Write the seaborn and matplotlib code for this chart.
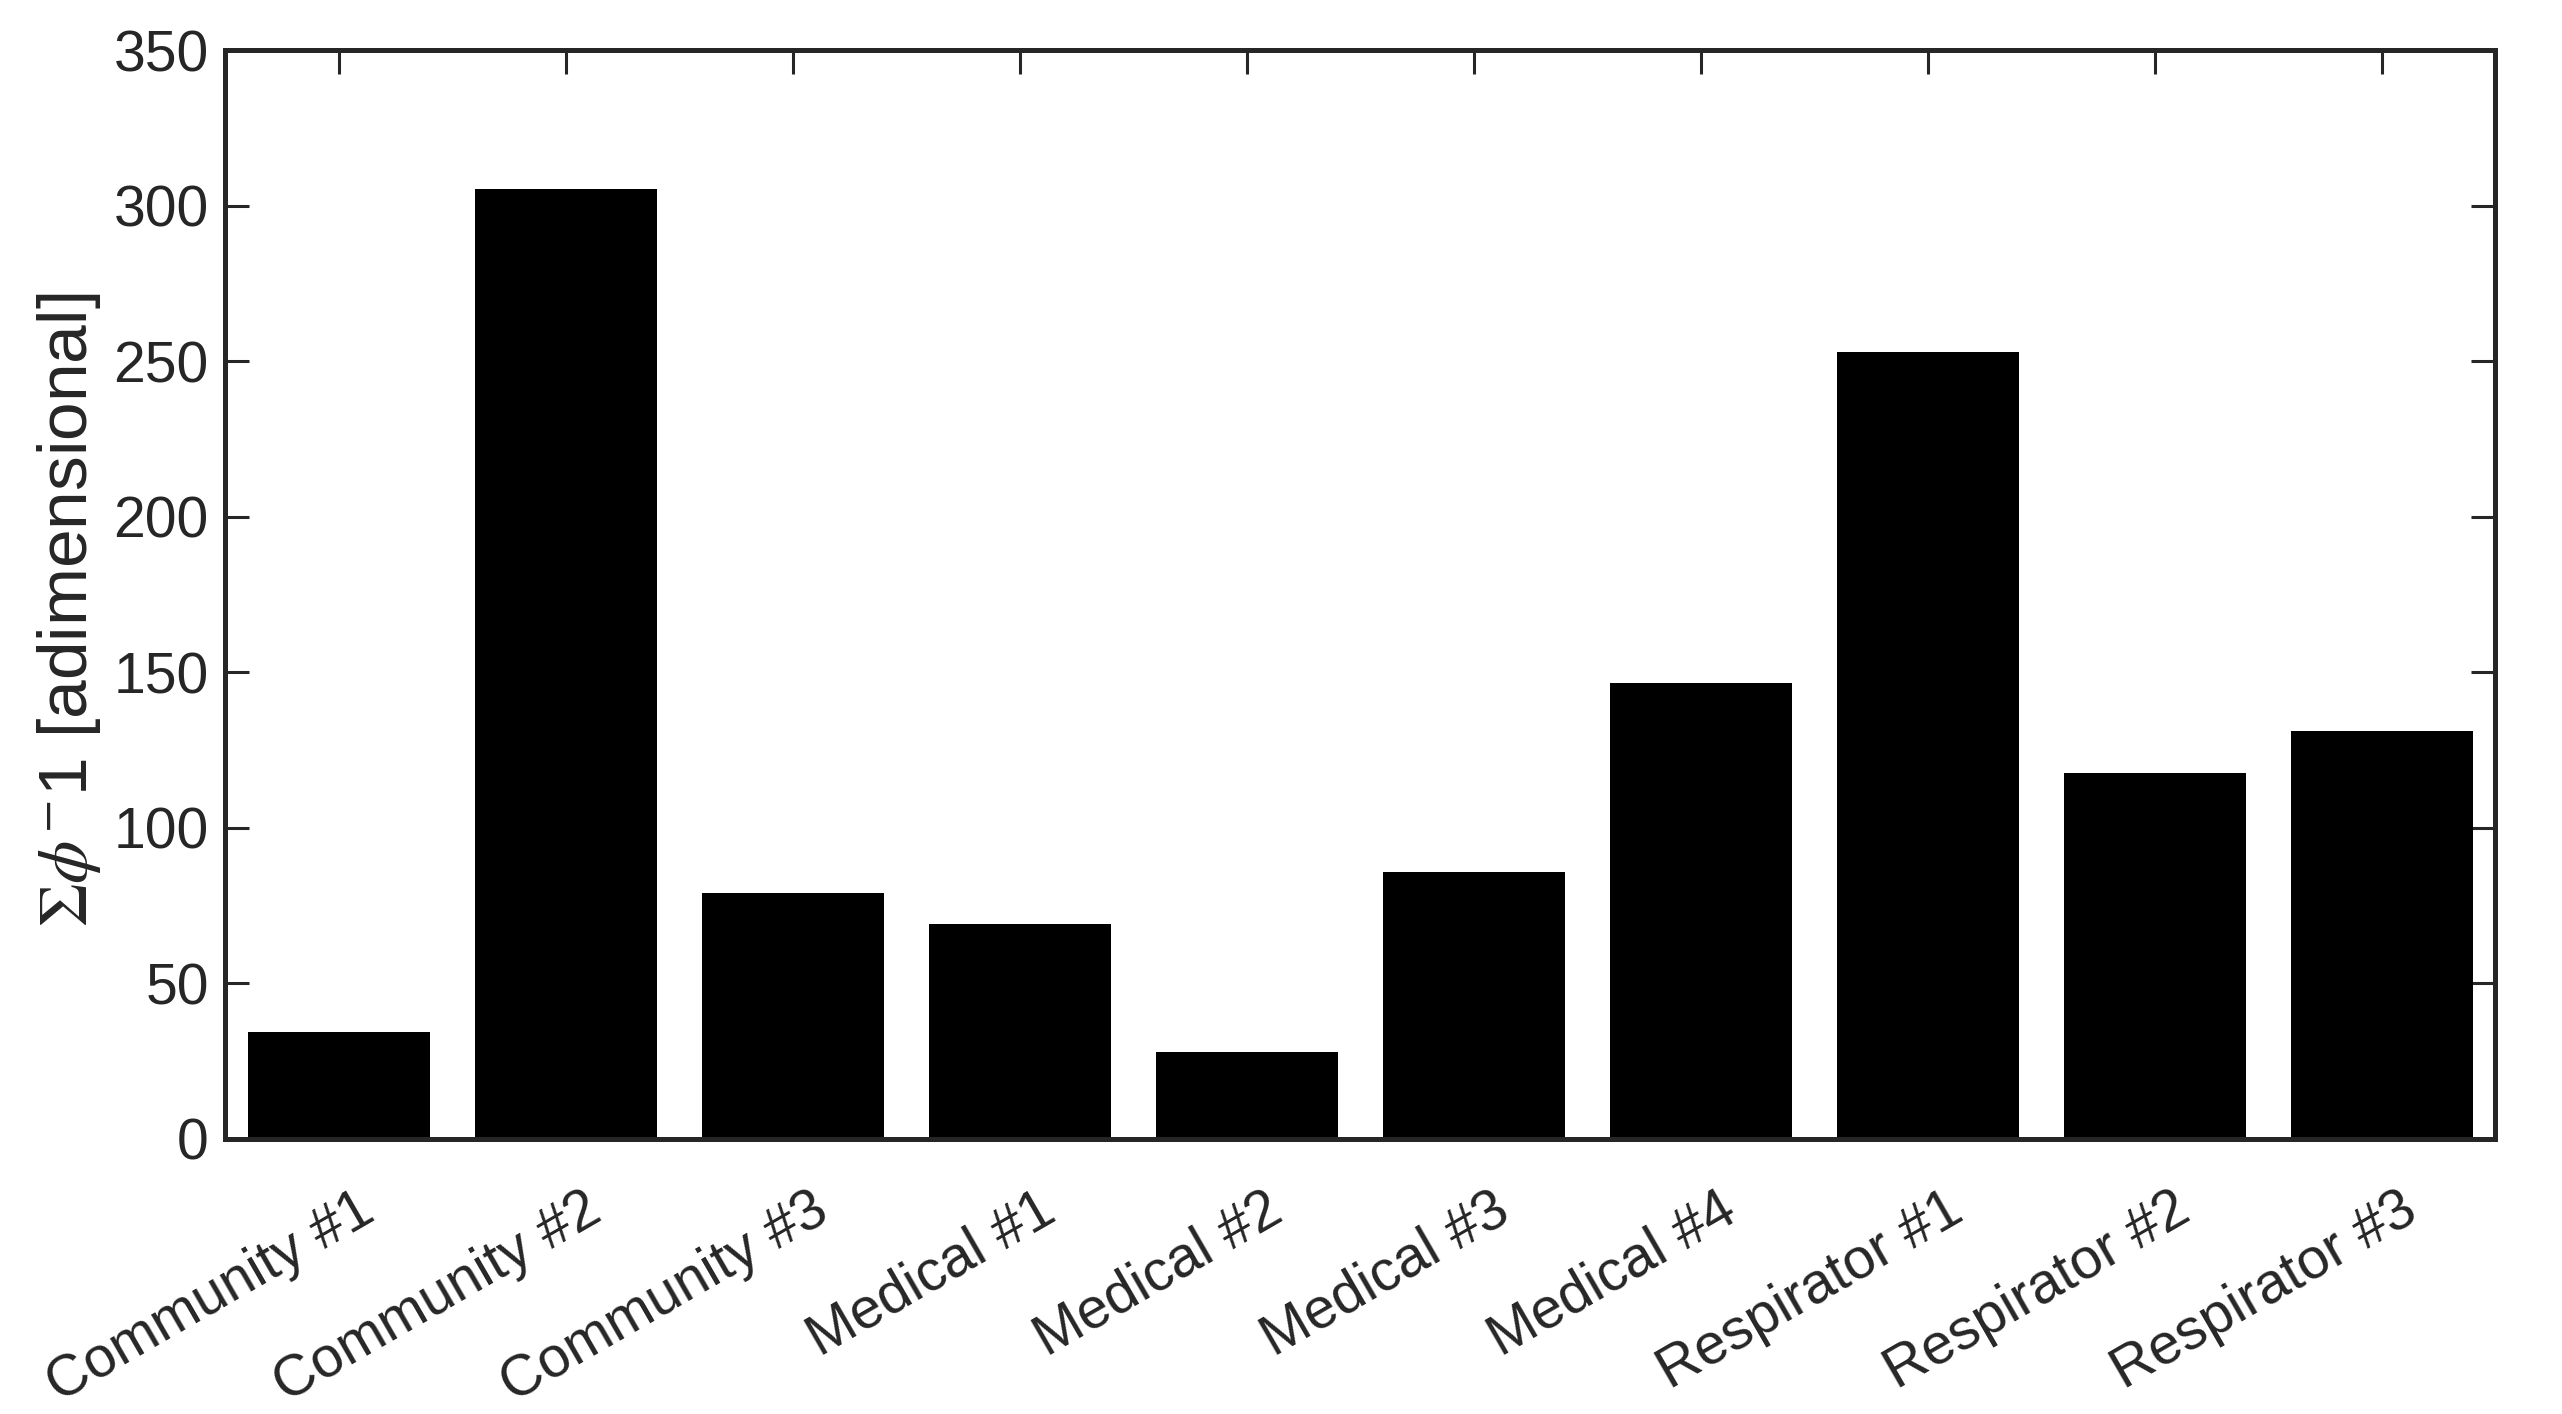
import pandas as pd
import matplotlib
matplotlib.use("Agg")
import matplotlib.pyplot as plt
import matplotlib.transforms as mtransforms
import seaborn as sns

# bar data
masks = ["Community #1", "Community #2", "Community #3", "Medical #1", "Medical #2",
         "Medical #3", "Medical #4", "Respirator #1", "Respirator #2", "Respirator #3"]
inv_phi_sum = [34.3, 305.5, 79.0, 69.0, 27.9, 85.9, 146.5, 253.0, 117.6, 131.2]
y_ticks = [0, 50, 100, 150, 200, 250, 300, 350]

df = pd.DataFrame({"Mask": masks, "Value": inv_phi_sum})

sns.set_theme(style="white")
plt.rcParams["font.family"] = ["Liberation Sans", "DejaVu Sans"]
plt.rcParams["mathtext.fontset"] = "stix"

axis_col = "#262626"

fig = plt.figure(figsize=(12.81, 7.07), dpi=200)
ax = fig.add_axes([0.088, 0.1945, 0.886, 0.770])

sns.barplot(data=df, x="Mask", y="Value", color="black", saturation=1,
            width=0.8, edgecolor="none", ax=ax)

ax.set_xlim(-0.5, len(masks) - 0.5)
ax.set_ylim(0, 350)
ax.set_yticks(y_ticks)
ax.set_xlabel("")
ax.set_ylabel(r"$\Sigma\phi^{-}$1 [adimensional]", fontsize=25, color=axis_col)
ax.yaxis.set_label_coords(-0.054, 0.486)

for s in ax.spines.values():
    s.set_visible(True)
    s.set_color(axis_col)
    s.set_linewidth(1.8)

ax.tick_params(axis="both", direction="in", length=8.5, width=1.1, color=axis_col,
               labelcolor=axis_col, labelsize=20.5, top=True, right=True, bottom=True, left=True)
ax.tick_params(axis="y", pad=6)
ax.tick_params(axis="x", pad=24)
shift = mtransforms.ScaledTranslation(11 / 72, 0, fig.dpi_scale_trans)
for lbl in ax.get_xticklabels():
    lbl.set_rotation(30)
    lbl.set_ha("right")
    lbl.set_va("center")
    lbl.set_rotation_mode("anchor")
    lbl.set_transform(lbl.get_transform() + shift)

fig.savefig("out.png", dpi=200, facecolor="white")
